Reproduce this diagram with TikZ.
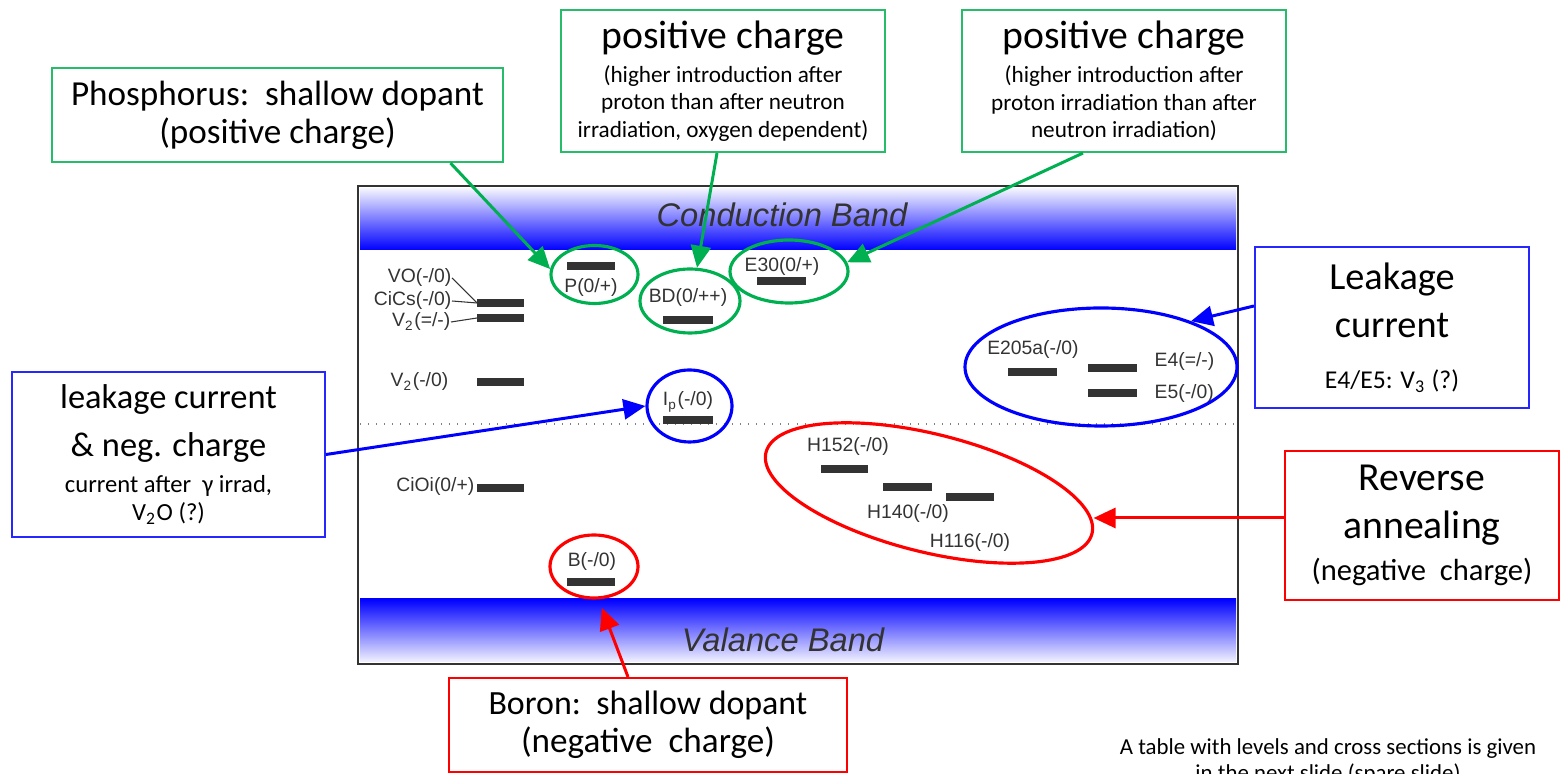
\documentclass[tikz,border=0pt]{standalone}
\usepackage{fontspec}
\setmainfont{Carlito}
\newfontfamily\arialfont{Liberation Sans}
\usetikzlibrary{shapes.geometric,arrows.meta}

\definecolor{pptgreen}{RGB}{0,176,80}
\definecolor{levelgray}{RGB}{51,51,51}

\newcommand{\fsz}[2]{\fontsize{#1}{#2}\selectfont}

\begin{document}
\begin{tikzpicture}[x=0.1mm, y=-0.1mm,
    box/.style={draw, line width=0.6pt, align=center, inner sep=0pt, text=black},
    lvl/.style={line width=2pt, levelgray},
    lvlname/.style={font=\arialfont\fsz{5.5}{6.5}, text=levelgray, inner sep=0pt},
    leader/.style={levelgray, line width=0.3pt},
    ring/.style={ellipse, draw, line width=0.9pt, inner sep=0pt},
    pointer/.style={line width=0.85pt, -{Triangle[length=2.2mm,width=2mm]}}]
    \useasboundingbox (0,0) rectangle (1560,774);

    % Bands and frame
    \shade[top color=blue!5, bottom color=blue] (360,189) rectangle (1236,250);
    \shade[top color=blue, bottom color=blue!5] (360,599) rectangle (1236,662);
    \draw[line width=0.6pt, levelgray] (358,186) rectangle (1238,664);
    \draw[gray, dotted, line width=0.3pt] (360,424) -- (1236,424);
    \node[font=\arialfont\itshape\fsz{9.3}{11}, text=levelgray] (cband) at (782,215) {Conduction Band};
    \node[font=\arialfont\itshape\fsz{9.3}{11}, text=levelgray] (vband) at (783,640) {Valance Band};

    % Levels on the left
    \coordinate (cicsbar) at (477,303);
    \coordinate (vtwobar) at (477,318);
    \draw[lvl] (cicsbar) -- (524,303);
    \draw[lvl] (vtwobar) -- (524,318);
    \draw[lvl] (477,382) -- (524,382);
    \draw[lvl] (477,488) -- (524,488);
    \node[lvlname, anchor=east] (vo) at (452,278) {VO(-/0)};
    \node[lvlname, anchor=east] (cics) at (452,301) {CiCs(-/0)};
    \node[lvlname, anchor=east] (vtwoa) at (451,322) {V\textsubscript{2}(=/-)};
    \node[lvlname, anchor=east] (vtwob) at (449,382) {V\textsubscript{2}(-/0)};
    \node[lvlname, anchor=east] (cioi) at (475,487) {CiOi(0/+)};
    \draw[leader] (vo.east) -- (cicsbar);
    \draw[leader] (cics.east) -- (cicsbar);
    \draw[leader] (vtwoa.east) -- (vtwobar);

    % Levels in the middle
    \draw[lvl] (567,266) -- (615,266);
    \node[lvlname] (plab) at (591,288) {P(0/+)};
    \draw[lvl] (663,320) -- (713,320);
    \node[lvlname] (bdlab) at (688,298) {BD(0/++)};
    \draw[lvl] (757,281) -- (806,281);
    \node[lvlname] (ethirtylab) at (782,267) {E30(0/+)};
    \draw[lvl] (663,420) -- (713,420);
    \node[lvlname] (iplab) at (688,402) {I\textsubscript{p}(-/0)};
    \draw[lvl] (567,582) -- (615,582);
    \node[lvlname] (blab) at (592,562) {B(-/0)};

    % Levels on the right
    \draw[lvl] (1008,372) -- (1057,372);
    \node[lvlname] (etwolab) at (1033,350) {E205a(-/0)};
    \draw[lvl] (1088,368) -- (1137,368);
    \node[lvlname, anchor=west] (efourlab) at (1154,362) {E4(=/-)};
    \draw[lvl] (1088,393) -- (1137,393);
    \node[lvlname, anchor=west] (efivelab) at (1154,394) {E5(-/0)};
    \draw[lvl] (821,469) -- (868,469);
    \node[lvlname] (honelab) at (848,447) {H152(-/0)};
    \draw[lvl] (883,487) -- (932,487);
    \node[lvlname] (htwolab) at (908,514) {H140(-/0)};
    \draw[lvl] (946,497) -- (994,497);
    \node[lvlname] (hthreelab) at (970,543) {H116(-/0)};

    % Rings round the levels
    \node[ring, pptgreen, minimum width=8.7mm, minimum height=5.8mm] (pring) at (594.5,274.5) {};
    \node[ring, pptgreen, minimum width=10mm, minimum height=6.4mm] (bdring) at (690,301) {};
    \node[ring, pptgreen, minimum width=11.8mm, minimum height=6.3mm] (ethirtyring) at (789,271.5) {};
    \node[ring, blue, minimum width=8.5mm, minimum height=7.2mm] (ipring) at (689.5,406) {};
    \node[ring, red, minimum width=8.8mm, minimum height=6.3mm] (bring) at (594,566.5) {};
    \node[ring, blue, minimum width=27.2mm, minimum height=11.8mm] (ering) at (1101,367) {};
    \node[ring, red, minimum width=33.6mm, minimum height=11.8mm, rotate=-14] (hring) at (929,493) {};

    % Boxes
    \node[box, draw=pptgreen!85, font=\fsz{10}{10.8}, minimum width=45.1mm, minimum height=9.4mm] (phos) at (277.5,115)
        {Phosphorus:\ \ shallow dopant\\(positive charge)};
    \node[box, draw=pptgreen!85, font=\fsz{6.6}{7.8}, minimum width=32.4mm, minimum height=14.2mm] (posa) at (723,81)
        {\fsz{11.3}{12}positive charge\\[1.9pt]\fsz{6.6}{7.8}(higher introduction after\\\fsz{6.6}{7.8}proton than after neutron\\\fsz{6.6}{7.8}irradiation, oxygen dependent)};
    \node[box, draw=pptgreen!85, font=\fsz{6.6}{7.8}, minimum width=32.4mm, minimum height=14.2mm] (posb) at (1124,81)
        {\fsz{11.3}{12}positive charge\\[1.9pt]\fsz{6.6}{7.8}(higher introduction after\\\fsz{6.6}{7.8}proton irradiation than after\\\fsz{6.6}{7.8}neutron irradiation)};
    \node[box, draw=blue!85, font=\fsz{10.9}{13.7}, minimum width=27.4mm, minimum height=16.1mm] (leakr) at (1392,327.5)
        {Leakage\\current\\[1pt]\fsz{7.3}{8}E4/E5: V\textsubscript{3} (?)};
    \node[box, draw=red, font=\fsz{11.3}{13.4}, minimum width=27.4mm, minimum height=14.9mm] (revbox) at (1422,525.5)
        {Reverse\\annealing\\[-1.4pt]\fsz{8.7}{10}(negative\ \ charge)};
    \node[box, draw=blue!85, font=\fsz{7}{8}, minimum width=31.3mm, minimum height=16.5mm] (leakl) at (168.5,454.5)
        {\fsz{9.8}{11}leakage current\\[4.2pt]\fsz{9.8}{11}\&~neg. charge\\[2.2pt]\fsz{7}{8}current after\ \ γ irrad,\\\fsz{7}{8}V\textsubscript{2}O (?)};
    \node[box, draw=red, font=\fsz{10}{10.8}, minimum width=39.8mm, minimum height=9.4mm] (boron) at (648,725)
        {\fsz{9.65}{10.8}Boron:\ \ shallow dopant\\(negative\ \ charge)};
    \node[align=center, inner sep=0pt, font=\fsz{6.5}{7.4}, anchor=north] (note) at (1328,738)
        {A table with levels and cross sections is given\\in the next slide (spare slide)};

    % Arrows
    \coordinate (revtail) at ([yshift=0.75mm]revbox.west);
    \draw[pointer, pptgreen] ([xshift=17.3mm]phos.south) -- (pring.173);
    \draw[pointer, pptgreen] ([xshift=-0.6mm]posa.south) -- (bdring.78);
    \draw[pointer, pptgreen] ([xshift=-4.1mm]posb.south) -- (ethirtyring.9);
    \draw[pointer, blue] ([yshift=2.15mm]leakr.west) -- (ering.27);
    \draw[pointer, blue] (leakl.east) -- (ipring.west);
    \draw[pointer, red] (revtail) -- (revtail -| hring.east);
    \draw[pointer, red, shorten >=0.9mm] ([xshift=-2mm]boron.north) -- (bring.-82);
\end{tikzpicture}
\end{document}
